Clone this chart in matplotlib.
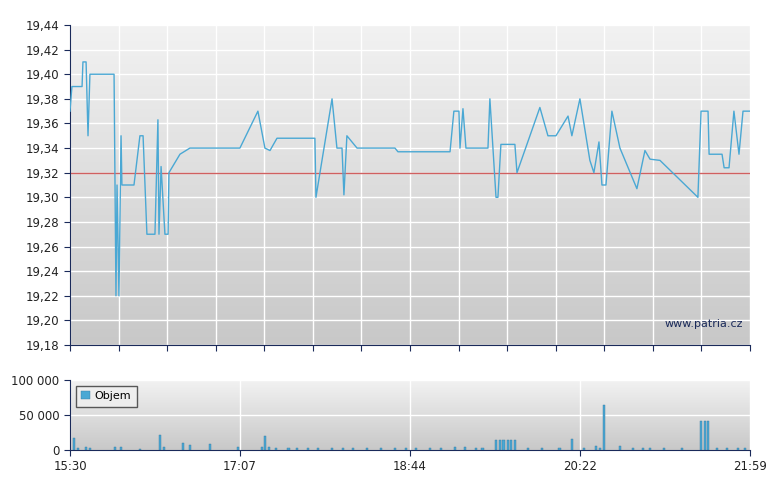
import matplotlib
matplotlib.use("Agg")
import matplotlib.pyplot as plt
import numpy as np
from matplotlib.ticker import FuncFormatter

# minutes after 15:30
price_t = [0,1.1,6.9,7.4,9.2,10.3,11.4,25.2,26.3,26.9,28,29.2,29.7,36.6,40,41.8,44,48.6,50.3,50.9,52.1,54.3,56.1,56.6,62.9,68.6,97.2,107.5,111.5,114.4,118.4,140.1,140.7,149.9,152.7,155.6,156.7,158.4,164.2,185.9,187.6,217.4,219.6,222.5,223.1,224.8,226.5,239.1,240.2,243.7,244.8,246.5,254.5,255.7,268.8,273.4,278,284.9,287.1,291.7,297.4,299.7,302.6,304.3,306.6,310,314.6,324.3,328.9,331.8,337.5,359.2,361,365,365.6,373,374.2,377,379.8,382.7,385,389]
price_v = [19.37,19.39,19.39,19.41,19.41,19.35,19.40,19.40,19.22,19.31,19.22,19.35,19.31,19.31,19.35,19.35,19.27,19.27,19.363,19.27,19.325,19.27,19.27,19.32,19.335,19.34,19.34,19.37,19.34,19.338,19.348,19.348,19.30,19.38,19.34,19.34,19.302,19.35,19.34,19.34,19.337,19.337,19.37,19.37,19.34,19.372,19.34,19.34,19.38,19.30,19.30,19.343,19.343,19.32,19.373,19.35,19.35,19.366,19.35,19.38,19.33,19.32,19.345,19.31,19.31,19.37,19.34,19.307,19.338,19.331,19.33,19.30,19.37,19.37,19.335,19.335,19.324,19.324,19.37,19.335,19.37,19.37]
ref_price = 19.32

vol_t = [2.3,4.6,9.2,11.4,26,29,40,51.5,54,64.6,68.6,80,96,110,111.5,114,118,125,130,136,142,150,156,162,170,178,186,192,198,206,212,220,226,232,236,243.7,246,248,250.5,252.5,254.5,262,270,280,287,294,301,303,305.5,314.6,322,328,332,340,350,361,363.2,365,370,376,382,386]
vol_v = [17000,3000,4000,3000,4000,5000,2000,22000,4000,10000,7000,8000,5000,5000,20000,5000,3000,3000,3000,3000,3000,3000,3000,3000,3000,3000,3000,3000,3000,3000,3000,4000,4000,3000,3000,15000,15000,15000,15000,15000,15000,3000,3000,3000,16000,3000,6000,3000,65000,6000,3000,3000,3000,3000,3000,42000,42000,42000,3000,3000,3000,3000]

xtick_labels = ["15:30","17:07","18:44","20:22","21:59"]
total = 389

line_c = "#4aa8d4"
navy = "#1a2a5a"

fig = plt.figure(figsize=(7.8, 4.9), dpi=100)
ax = fig.add_axes([70/780, 1-345/490, 680/780, 320/490])
axv = fig.add_axes([70/780, 1-450/490, 680/780, 70/490])

def bg(a, y0, y1):
    grad = np.linspace(0, 1, 256).reshape(-1, 1)
    cmap = matplotlib.colors.LinearSegmentedColormap.from_list("g", ["#c8c8c8", "#f2f2f2"])
    a.imshow(grad, aspect="auto", cmap=cmap, extent=[0, total, y0, y1], origin="lower", zorder=0)

grid_x = np.linspace(0, total, 15)
for a in (ax, axv):
    for s in ["top", "right"]:
        a.spines[s].set_visible(False)
    a.spines["left"].set_color(navy)
    a.spines["bottom"].set_color(navy)
    a.tick_params(colors=navy, labelcolor="#222222", labelsize=8.5, length=4)

bg(ax, 19.18, 19.44)
ax.set_xlim(0, total)
ax.set_ylim(19.18, 19.44)
yt = np.arange(19.18, 19.4401, 0.02)
ax.set_yticks(yt)
ax.yaxis.set_major_formatter(FuncFormatter(lambda v, p: f"{v:.2f}".replace(".", ",")))
ax.set_xticks(grid_x)
ax.set_xticklabels([])
for gx in grid_x:
    ax.axvline(gx, color="white", lw=1, zorder=1)
for gy in yt:
    ax.axhline(gy, color="white", lw=1, zorder=1)
ax.axhline(ref_price, color="#d06060", lw=1, zorder=2)
ax.plot(price_t, price_v, color=line_c, lw=1, zorder=3)
ax.text(0.99, 0.05, "www.patria.cz", transform=ax.transAxes, ha="right", va="bottom", fontsize=8, color="#1a2a5a", zorder=4)

bg(axv, 0, 100000)
axv.set_xlim(0, total)
axv.set_ylim(0, 100000)
axv.set_yticks([0, 50000, 100000])
axv.yaxis.set_major_formatter(FuncFormatter(lambda v, p: f"{int(v):,}".replace(",", " ")))
vx = np.linspace(0, total, 5)
axv.set_xticks(vx)
axv.set_xticklabels(xtick_labels)
for gx in vx:
    axv.axvline(gx, color="white", lw=1, zorder=1)
for gy in [50000, 100000]:
    axv.axhline(gy, color="white", lw=1, zorder=1)
axv.bar(vol_t, vol_v, width=1.2, color=line_c, edgecolor="#3a7aa0", lw=0.3, zorder=3, label="Objem")
leg = axv.legend(loc="upper left", fontsize=8, frameon=True, fancybox=False, handlelength=0.8, handletextpad=0.4, borderpad=0.5)
leg.get_frame().set_edgecolor("#333333")
leg.get_frame().set_facecolor("#f0f0f0")

fig.savefig("out.png", dpi=100)
